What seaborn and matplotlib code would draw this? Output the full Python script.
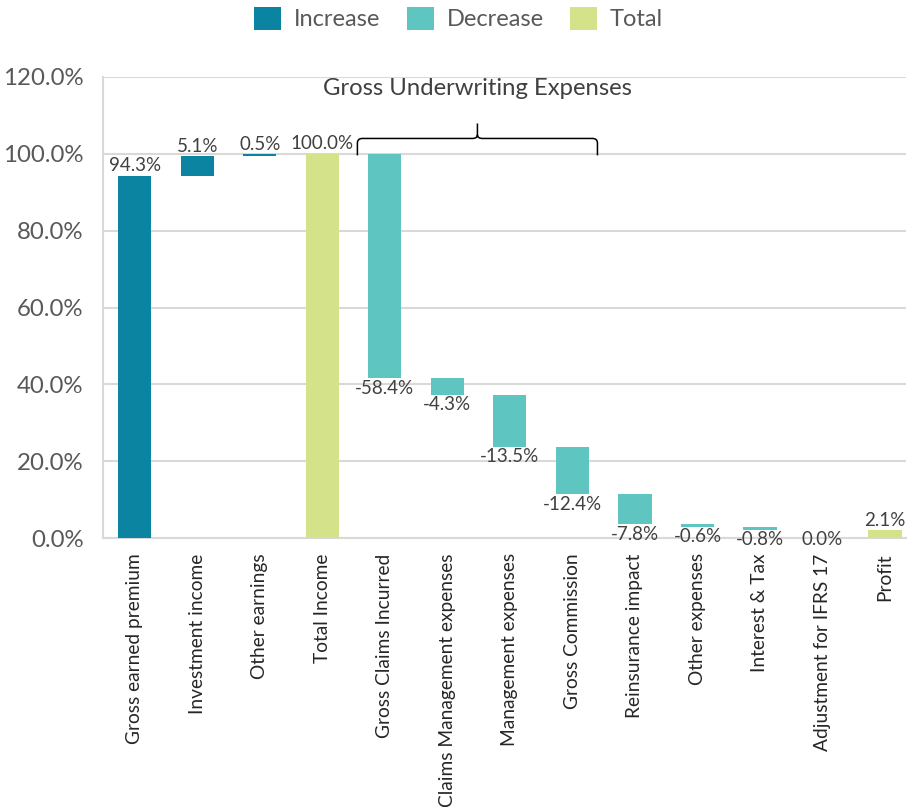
import numpy as np
import pandas as pd
import matplotlib
matplotlib.use("Agg")
import matplotlib.pyplot as plt
from matplotlib.patches import Patch
from matplotlib.path import Path
from matplotlib.patches import PathPatch
import seaborn as sns

# Waterfall data (percent of total income)
categories = [
    "Gross earned premium", "Investment income", "Other earnings", "Total Income",
    "Gross Claims Incurred", "Claims Management expenses", "Management expenses",
    "Gross Commission", "Reinsurance impact", "Other expenses", "Interest & Tax",
    "Adjustment for IFRS 17", "Profit",
]
changes = [94.3, 5.1, 0.5, 100.0, -58.4, -4.3, -13.5, -12.4, -7.8, -0.6, -0.8, 0.0, 2.1]
kinds = ["Increase", "Increase", "Increase", "Total",
         "Decrease", "Decrease", "Decrease", "Decrease", "Decrease",
         "Decrease", "Decrease", "Decrease", "Total"]

palette = {"Increase": "#0A84A0", "Decrease": "#5EC5C1", "Total": "#D4E38A"}

# running totals -> bar bottoms and heights
bottoms, heights, level = [], [], 0.0
for val, kind in zip(changes, kinds):
    if kind == "Total":
        bottoms.append(0.0)
        heights.append(val)
        level = val
    elif val >= 0:
        bottoms.append(level)
        heights.append(val)
        level += val
    else:
        bottoms.append(level + val)
        heights.append(-val)
        level += val

df = pd.DataFrame({"category": categories, "height": heights,
                   "bottom": bottoms, "kind": kinds, "change": changes})

sns.set_theme(style="white")
plt.rcParams["font.family"] = ["Lato", "DejaVu Sans"]

fig = plt.figure(figsize=(9.08, 8.07), dpi=100)
ax = fig.add_axes([0.1134, 0.3333, 0.884, 0.5713])

sns.barplot(data=df, x="category", y="height", order=categories,
            bottom=df["bottom"].to_numpy(), errorbar=None, width=0.53,
            color=palette["Increase"], ax=ax, zorder=3, linewidth=0)

for patch, kind in zip(ax.patches, kinds):
    patch.set_facecolor(palette[kind])

# value labels
for i, (b, h, kind, val) in enumerate(zip(bottoms, heights, kinds, changes)):
    if val >= 0 and kind != "Decrease":
        ax.annotate(f"{val:.1f}%", (i, b + h), xytext=(0, 1), textcoords="offset points",
                    ha="center", va="bottom", fontsize=13.5, color="#404040", zorder=4)
    else:
        ax.annotate(f"{val:.1f}%", (i, b), xytext=(0, -1), textcoords="offset points",
                    ha="center", va="top", fontsize=13.5, color="#404040", zorder=4)

ax.set_ylim(0, 120)
ax.set_xlim(-0.51, 12.33)
ax.set_yticks(np.arange(0, 121, 20))
ax.set_yticklabels([f"{t:.1f}%" for t in np.arange(0, 121, 20)])
ax.yaxis.grid(True, color="#D9D9D9", linewidth=1.5, zorder=0)
ax.set_axisbelow(True)
ax.tick_params(axis="y", labelsize=17.3, labelcolor="#595959", length=0, pad=14)
ax.tick_params(axis="x", labelsize=13.8, labelcolor="#262626", length=0, pad=11)
plt.setp(ax.get_xticklabels(), rotation=90, ha="center", va="top")
ax.set_xlabel("")
ax.set_ylabel("")
for side in ["top", "right"]:
    ax.spines[side].set_visible(False)
ax.spines["left"].set_color("#D9D9D9")
ax.spines["left"].set_linewidth(1.5)
ax.spines["bottom"].set_color("#D9D9D9")
ax.spines["bottom"].set_linewidth(1.5)

# curly brace over the underwriting expense bars
x0, x1, xm = 3.56, 7.40, 5.48
yb, yh, yt = 99.6, 104.0, 107.9
r = 0.08
verts = [
    (x0, yb), (x0, yh - 1.2), (x0, yh), (x0 + r, yh),
    (xm - r, yh), (xm, yh), (xm, yh + 1.0), (xm, yt),
    (xm, yh + 1.0), (xm, yh), (xm + r, yh),
    (x1 - r, yh), (x1, yh), (x1, yh - 1.2), (x1, yb),
]
codes = [Path.MOVETO, Path.LINETO, Path.CURVE3, Path.CURVE3,
         Path.LINETO, Path.CURVE3, Path.CURVE3, Path.LINETO,
         Path.MOVETO, Path.CURVE3, Path.CURVE3,
         Path.LINETO, Path.CURVE3, Path.CURVE3, Path.LINETO]
ax.add_patch(PathPatch(Path(verts, codes), facecolor="none", edgecolor="black",
                       linewidth=1.1, zorder=5, clip_on=False))
ax.text(xm, 117.0, "Gross Underwriting Expenses", ha="center", va="center",
        fontsize=17.2, color="#404040", zorder=5)

handles = [Patch(facecolor=palette[k], edgecolor="none", label=k)
           for k in ["Increase", "Decrease", "Total"]]
fig.legend(handles=handles, loc="center", bbox_to_anchor=(0.505, 0.977), ncol=3,
           frameon=False, fontsize=17, labelcolor="#595959",
           handlelength=1.15, handleheight=1.15, handletextpad=0.55, columnspacing=1.1)

fig.savefig("out.png", dpi=100)
